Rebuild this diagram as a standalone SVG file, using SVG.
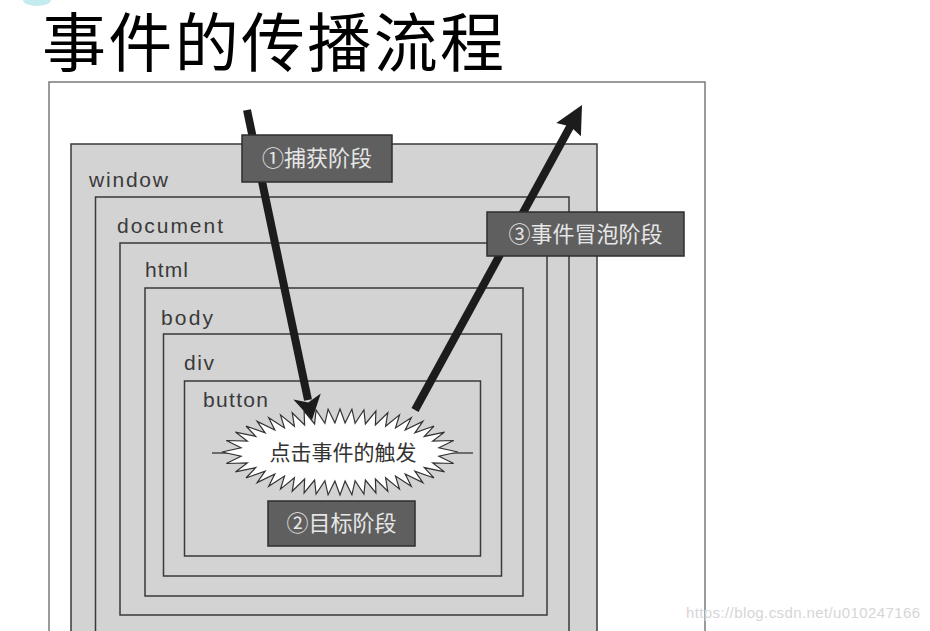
<svg xmlns="http://www.w3.org/2000/svg" width="930" height="631" viewBox="0 0 930 631">
<style>
.layer{fill:#d3d3d3;stroke:#3a3a3a;stroke-width:1.5}
.lbl{font-family:"Liberation Sans",Arial,sans-serif;font-size:21px;fill:#3a3a3a}
.tag rect{fill:#5f5f5f;stroke:#2e2e2e;stroke-width:1.5}
.tag text{font-family:"Noto Sans CJK SC","Noto Sans",sans-serif;font-size:22px;fill:#e6e6e6;text-anchor:middle}
.shaft{stroke:#1c1c1c;stroke-width:8;fill:none}
.head{fill:#1c1c1c}
</style>
<rect width="930" height="631" fill="#ffffff"/>
<ellipse cx="37" cy="0" rx="14" ry="6" fill="#c4ecee"/>
<text x="42" y="66" font-family="'Noto Sans CJK SC','Noto Sans',sans-serif" font-size="64" fill="#000" textLength="462">事件的传播流程</text>
<g id="frame"><rect x="49" y="82" width="656" height="570" fill="#fff" stroke="#7a7a7a" stroke-width="1.5"/></g>
<g id="window"><rect class="layer" x="71" y="144" width="526" height="520"/><text class="lbl" x="89" y="187" textLength="79">window</text></g>
<g id="document"><rect class="layer" x="95.5" y="197" width="473.5" height="470"/><text class="lbl" x="117" y="233" textLength="106">document</text></g>
<g id="html"><rect class="layer" x="120" y="243" width="427" height="372"/><text class="lbl" x="145" y="277" textLength="43">html</text></g>
<g id="body"><rect class="layer" x="145" y="288" width="378" height="308"/><text class="lbl" x="161" y="325" textLength="52">body</text></g>
<g id="div"><rect class="layer" x="163.5" y="334" width="338" height="242"/><text class="lbl" x="184" y="370" textLength="30">div</text></g>
<g id="button"><rect class="layer" x="184.5" y="381" width="296" height="175"/><text class="lbl" x="203" y="407" textLength="65">button</text></g>
<g id="burst">
<line x1="212" y1="453" x2="230" y2="453" stroke="#333" stroke-width="1.3"/>
<line x1="450" y1="453" x2="473" y2="453" stroke="#333" stroke-width="1.3"/>
<polygon fill="#fff" stroke="#333" stroke-width="1.2" stroke-linejoin="miter" points="458,452 438.9,447.8 453.7,440.5 432.7,441.1 444.6,432.1 424.3,436.4 434,426 414.9,432.8 422.9,421.4 405.2,430 411.3,417.8 395.5,427.9 399.5,414.9 385.6,426.2 387.8,412.7 375.4,424.9 375.9,411 365.4,423.9 363.9,409.9 355.1,423.3 351.9,409.2 345.1,423 340,409 334.9,423 328.1,409.2 324.9,423.3 316.1,409.9 314.6,423.9 304.1,411 304.6,424.9 292.2,412.7 294.4,426.2 280.5,414.9 284.5,427.9 268.7,417.8 274.8,430 257.1,421.4 265.1,432.8 246,426 255.7,436.4 235.4,432.1 247.3,441.1 226.3,440.5 241.1,447.8 222,452 241.1,456.2 226.3,463.5 247.3,462.9 235.4,471.9 255.7,467.6 246,478 265.1,471.2 257.1,482.6 274.8,474 268.7,486.2 284.5,476.1 280.5,489.1 294.4,477.8 292.2,491.3 304.6,479.1 304.1,493 314.6,480.1 316.1,494.1 324.9,480.7 328.1,494.8 334.9,481 340,495 345.1,481 351.9,494.8 355.1,480.7 363.9,494.1 365.4,480.1 375.9,493 375.4,479.1 387.8,491.3 385.6,477.8 399.5,489.1 395.5,476.1 411.3,486.2 405.2,474 422.9,482.6 414.9,471.2 434,478 424.3,467.6 444.6,471.9 432.7,462.9 453.7,463.5 438.9,456.2"/>
<text x="343" y="460" font-family="'Noto Sans CJK SC','Noto Sans',sans-serif" font-size="21" fill="#333" text-anchor="middle">点击事件的触发</text>
</g>
<g id="connectors">
<line class="shaft" x1="247" y1="110" x2="308" y2="400"/>
<polygon class="head" points="312,420 320.8,393.6 308.3,402.4 293.4,399.4"/>
<line class="shaft" x1="415" y1="410" x2="571" y2="125"/>
<polygon class="head" points="582,105 580.9,136.3 570.5,126.5 556.3,122.9"/>
</g>
<g id="capture" class="tag"><rect x="242" y="135" width="150" height="47"/><text x="317" y="166">①捕获阶段</text></g>
<g id="bubble" class="tag"><rect x="487" y="212" width="197" height="44"/><text x="585.5" y="242">③事件冒泡阶段</text></g>
<g id="target" class="tag"><rect x="268" y="501" width="147" height="45"/><text x="341.5" y="531">②目标阶段</text></g>
<text x="686" y="618" font-family="'Liberation Sans',Arial,sans-serif" font-size="15" fill="#d6d6d6" textLength="234">https://blog.csdn.net/u010247166</text>
</svg>
